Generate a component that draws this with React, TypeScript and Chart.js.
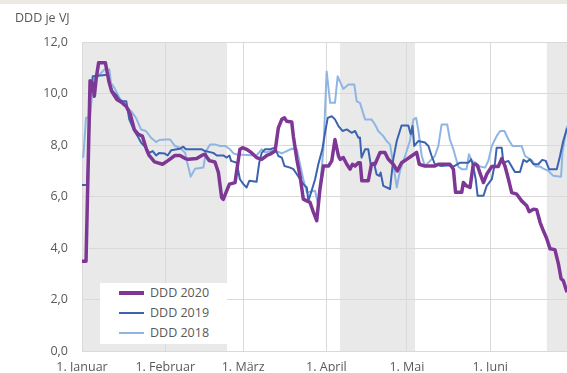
import React, { useEffect, useRef } from "react";
import { Chart, registerables } from "chart.js";
Chart.register(...registerables);

// x = day of year (0 = 1. Januar)
const monthStarts = [0, 31, 60, 91, 121, 152];
const monthLabels = ["1. Januar", "1. Februar", "1. März", "1. April", "1. Mai", "1. Juni"];
const yTickValues = [0, 2, 4, 6, 8, 10, 12];
const shadedRanges = [[0, 54], [96.1, 124], [173.1, 181]];
const xMax = 180.6;

const days2020 = [0, 1.5, 3, 4, 4.6, 5.3, 6.2, 8.7, 10, 11, 13, 15, 16.5, 18, 19.5, 21, 22.5, 24, 25, 27, 30, 32, 34.6, 36.5, 38.4, 39.6, 42.7, 44.6, 45.8, 46.7, 47.4, 49.5, 50.8, 52, 52.6, 53.6, 54.9, 57, 57.6, 58.8, 59.8, 61.3, 63.2, 65, 66.9, 68.8, 70, 71.9, 73.1, 74.4, 75.4, 76.2, 78.1, 78.7, 80, 81.2, 82.4, 83.7, 84.9, 86.2, 87.4, 88.6, 89.9, 91.8, 93, 94.2, 95.5, 96.1, 97.3, 98.6, 99.8, 100.7, 101.7, 102.9, 103.6, 104.2, 106.6, 107.8, 109.1, 111, 112.8, 114, 115.9, 117.4, 119, 120.9, 122.7, 124.6, 125.6, 127.7, 131.4, 132.7, 137, 138.3, 139.1, 141.4, 142, 143.2, 144.5, 145.7, 146.6, 147.3, 148.8, 149.5, 150.7, 152.6, 155, 156.3, 157.5, 158.8, 160, 161.9, 163.7, 165.6, 166.5, 168.1, 169.3, 170.6, 171.8, 173, 174.3, 176.1, 177.4, 178.4, 179.2, 180.6];
const ddd2020 = [3.5, 3.5, 10.5, 10.4, 9.9, 10.6, 11.2, 11.2, 10.48, 10.1, 9.77, 9.64, 9.5, 9.19, 8.6, 8.42, 8.35, 7.84, 7.6, 7.35, 7.26, 7.4, 7.6, 7.6, 7.48, 7.45, 7.48, 7.6, 7.65, 7.5, 7.4, 7.35, 6.94, 5.97, 5.9, 6.16, 6.49, 6.55, 7.0, 7.84, 7.9, 7.84, 7.7, 7.52, 7.45, 7.6, 7.65, 7.77, 8.67, 9.0, 9.06, 8.93, 8.9, 8.35, 7.45, 6.8, 5.91, 5.84, 5.78, 5.39, 5.07, 6.29, 7.19, 7.19, 7.39, 8.22, 7.58, 7.45, 7.52, 7.26, 7.07, 7.26, 7.19, 7.32, 7.32, 6.62, 6.62, 7.26, 7.26, 7.72, 7.72, 7.46, 7.26, 7.0, 7.32, 7.45, 7.58, 7.72, 7.26, 7.19, 7.19, 7.26, 7.26, 7.07, 6.17, 6.17, 6.55, 6.42, 6.36, 7.26, 7.26, 7.19, 6.74, 6.55, 6.87, 7.17, 7.17, 7.48, 7.19, 6.68, 6.16, 6.1, 5.84, 5.65, 5.42, 5.52, 5.5, 5.0, 4.68, 4.39, 3.98, 3.95, 3.4, 2.82, 2.75, 2.3];

const days2019 = [0, 2, 3, 4, 9.6, 10.2, 11.4, 12.7, 13.9, 15.2, 16.5, 17.6, 19.5, 20.7, 22, 23.8, 25, 26.3, 27.6, 28.8, 30.7, 31.9, 33.2, 36.5, 37.7, 38.7, 44.6, 45.8, 47.7, 48.9, 50.2, 52.6, 53.9, 54.9, 55.5, 57.6, 58.8, 60.1, 61.3, 62.3, 65, 66, 66.9, 68.2, 70, 71.9, 73.1, 74.4, 75.4, 77.5, 78.7, 80, 81.2, 82.4, 83.7, 84.3, 85.5, 86.8, 88, 89.5, 90.5, 91.5, 93, 94.2, 95.5, 97, 98.6, 100.4, 101.7, 102.9, 103.5, 104.1, 105.4, 106.6, 107.5, 108.7, 109.7, 110.7, 111.2, 112.2, 114.7, 115.9, 117.2, 119, 121.5, 122.4, 123.1, 123.7, 125.2, 127.7, 129, 130.2, 131.4, 133.9, 136.4, 138.3, 140.8, 143.9, 144.9, 145.7, 146.6, 147.3, 149.5, 150.7, 152.6, 153.8, 154.4, 156.3, 156.9, 158.8, 160, 161.2, 163.1, 164.4, 165.6, 166.8, 168.1, 169.9, 171.4, 172.7, 173.9, 176.8, 178, 179.2, 180.6];
const ddd2019 = [6.46, 6.46, 9.8, 10.67, 10.73, 10.41, 10.09, 9.96, 9.77, 9.7, 9.7, 9.0, 8.55, 8.35, 8.1, 7.9, 7.7, 7.77, 7.6, 7.7, 7.68, 7.6, 7.8, 7.86, 7.94, 7.84, 7.84, 7.77, 7.73, 7.7, 7.6, 7.6, 7.52, 7.6, 7.39, 7.32, 6.68, 6.49, 6.36, 6.62, 6.58, 7.32, 7.7, 7.84, 7.84, 7.9, 7.58, 7.52, 7.19, 7.13, 7.07, 6.87, 6.68, 6.49, 6.36, 5.84, 6.23, 6.68, 7.26, 7.84, 8.48, 9.06, 9.12, 9.0, 8.74, 8.55, 8.61, 8.48, 8.55, 8.29, 8.3, 7.52, 7.84, 7.84, 7.26, 7.32, 6.87, 6.81, 6.94, 6.42, 6.3, 7.45, 8.16, 8.76, 8.76, 8.42, 8.74, 7.97, 8.16, 8.1, 7.97, 7.58, 7.26, 7.19, 7.22, 7.17, 7.32, 7.32, 7.45, 7.19, 6.68, 6.04, 6.04, 6.42, 6.68, 7.32, 7.9, 7.9, 7.32, 7.39, 7.17, 6.96, 6.96, 7.43, 7.35, 7.45, 7.26, 7.26, 7.43, 7.39, 7.07, 7.07, 7.58, 8.16, 8.65];

const days2018 = [0, 0.5, 1.5, 3, 4, 4.6, 6.5, 8.3, 10.2, 10.8, 12.1, 13.9, 16.4, 18.3, 20.1, 22, 23.8, 25.7, 27.6, 28.8, 31.3, 32.8, 34.6, 36.5, 38.4, 39.2, 40.5, 42.1, 45.2, 46.2, 47.7, 49.5, 51.4, 53.3, 55.1, 56.4, 57.6, 65, 66.9, 68.2, 70.6, 72.5, 74.4, 76.2, 78.1, 80, 81.2, 82.4, 83.7, 86.8, 88, 89.9, 91.1, 92.4, 94.2, 95.2, 97.3, 99.2, 101.4, 102.3, 103.5, 105.4, 107.8, 109.1, 110.3, 112.2, 113.4, 114.7, 115.9, 117.2, 118.4, 120.3, 122.1, 123.4, 124.4, 125.2, 126.5, 127.7, 129.6, 131.4, 132.7, 133.9, 136, 137, 138.3, 139.2, 140.1, 141.4, 143.2, 144.1, 145.1, 146.6, 148.2, 150.1, 151.3, 152.6, 154.4, 155.7, 157.3, 158.8, 160.3, 163.7, 165, 166.5, 167.7, 169, 170.6, 171.8, 173.7, 175.5, 178.4, 178.9, 180.6];
const ddd2018 = [7.55, 7.55, 9.06, 9.06, 10.28, 10.6, 10.73, 10.93, 10.93, 10.41, 10.22, 9.83, 9.51, 9.32, 9.06, 8.61, 8.55, 8.29, 8.12, 8.2, 8.22, 8.22, 7.97, 7.9, 7.7, 7.32, 6.78, 7.09, 7.13, 7.77, 8.03, 8.03, 7.97, 7.97, 7.84, 7.68, 7.64, 7.6, 7.84, 7.72, 7.77, 7.77, 7.68, 7.77, 7.86, 7.84, 7.26, 6.68, 6.17, 6.23, 5.65, 7.84, 10.86, 9.64, 9.64, 10.67, 10.18, 10.35, 10.35, 9.7, 9.64, 9.0, 9.0, 8.8, 8.55, 8.35, 8.16, 8.03, 7.26, 6.36, 7.0, 7.58, 8.16, 9.0, 9.06, 8.61, 7.58, 7.19, 7.39, 7.58, 7.97, 8.8, 8.8, 8.22, 7.84, 7.5, 7.17, 7.07, 7.07, 7.65, 7.39, 7.32, 7.17, 7.13, 7.39, 7.97, 8.35, 8.55, 8.55, 8.22, 7.97, 7.97, 7.58, 7.48, 7.39, 7.17, 7.17, 7.09, 7.0, 6.81, 6.78, 7.71, 8.74];

const seriesLabels = ["DDD 2020", "DDD 2019", "DDD 2018"];
const seriesColors = ["#7e3794", "#3b63b0", "#8fb6e2"];
const seriesWidths = [3.5, 2, 2];

const FONT = "'Open Sans', 'Noto Sans', sans-serif";
const TEXT = "#595959";
const GRID = "#d9d9d9";

const toPoints = (xs: number[], ys: number[]) => xs.map((x, i) => ({ x, y: ys[i] }));

const shadePlugin = {
  id: "shade",
  beforeDraw(chart: any) {
    const { ctx, chartArea, scales } = chart;
    const x = scales.x;
    ctx.save();
    ctx.fillStyle = "#e9e9e9";
    for (const [a, b] of shadedRanges) {
      const x1 = Math.max(x.getPixelForValue(a), chartArea.left);
      const x2 = Math.min(x.getPixelForValue(b), chartArea.right);
      if (x2 > x1) ctx.fillRect(x1, chartArea.top, x2 - x1, chartArea.bottom - chartArea.top);
    }
    ctx.restore();
  },
};

export default function App() {
  const ref = useRef<HTMLCanvasElement | null>(null);
  useEffect(() => {
    if (!ref.current) return;
    const datasets = [
      [days2020, ddd2020],
      [days2019, ddd2019],
      [days2018, ddd2018],
    ].map(([xs, ys], i) => ({
      label: seriesLabels[i],
      data: toPoints(xs, ys),
      borderColor: seriesColors[i],
      backgroundColor: seriesColors[i],
      borderWidth: seriesWidths[i],
      pointRadius: 0,
      tension: 0,
      borderJoinStyle: "round" as const,
      order: i === 0 ? 0 : i,
    }));
    const chart = new Chart(ref.current, {
      type: "line",
      data: { datasets },
      plugins: [shadePlugin],
      options: {
        animation: false,
        responsive: false,
        layout: { padding: { top: 42, left: 0, right: 0, bottom: 0 } },
        plugins: { legend: { display: false }, tooltip: { enabled: false } },
        scales: {
          x: {
            type: "linear",
            min: 0,
            max: xMax,
            afterBuildTicks: (s: any) => {
              s.ticks = monthStarts.map((v) => ({ value: v }));
            },
            afterFit: (s: any) => {
              s.height = 20;
            },
            ticks: {
              autoSkip: false,
              maxRotation: 0,
              padding: 8,
              color: TEXT,
              font: { family: FONT, size: 12.5 },
              callback: (v: any) => {
                const idx = monthStarts.indexOf(Number(v));
                return idx >= 0 ? monthLabels[idx] : "";
              },
            },
            grid: { color: GRID, drawTicks: false },
            border: { color: GRID },
          },
          y: {
            min: 0,
            max: 12,
            afterBuildTicks: (s: any) => {
              s.ticks = yTickValues.map((v) => ({ value: v }));
            },
            afterFit: (s: any) => {
              s.width = 82;
            },
            ticks: {
              padding: 14,
              color: TEXT,
              font: { family: FONT, size: 12.5 },
              callback: (v: any) => Number(v).toFixed(1).replace(".", ","),
            },
            grid: { color: GRID, drawTicks: false },
            border: { color: GRID },
          },
        },
      },
    });
    return () => chart.destroy();
  }, []);

  return (
    <div style={{ position: "fixed", left: 0, top: 0, width: 567, height: 373, background: "#fff", overflow: "hidden" }}>
      <div style={{ position: "absolute", left: 0, top: 0, width: 567, height: 4, background: "#ece9e2" }} />
      <canvas ref={ref} width={567} height={373} style={{ position: "absolute", left: 0, top: 0 }} />
      <div
        style={{
          position: "absolute",
          left: 15,
          top: 11.5,
          fontFamily: FONT,
          fontSize: 12.5,
          lineHeight: "12.5px",
          color: TEXT,
          whiteSpace: "nowrap",
        }}
      >
        DDD je VJ
      </div>
      <div
        style={{
          position: "absolute",
          left: 100,
          top: 283,
          width: 127,
          height: 61,
          background: "#fff",
        }}
      >
        {seriesLabels.map((lab, i) => (
          <div key={lab} style={{ position: "absolute", left: 0, top: [10, 29.7, 49.7][i] - 8, height: 16, width: 127 }}>
            <div
              style={{
                position: "absolute",
                left: 19,
                top: 8 - seriesWidths[i] / 2,
                width: 25,
                height: seriesWidths[i],
                background: seriesColors[i],
              }}
            />
            <div
              style={{
                position: "absolute",
                left: 50,
                top: 0,
                fontFamily: FONT,
                fontSize: 12.5,
                lineHeight: "16px",
                color: TEXT,
                whiteSpace: "nowrap",
              }}
            >
              {lab}
            </div>
          </div>
        ))}
      </div>
    </div>
  );
}
